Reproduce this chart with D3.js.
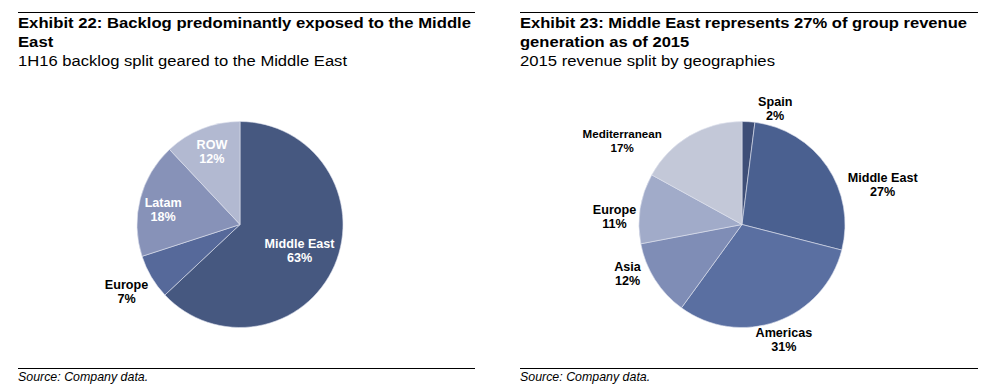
<!DOCTYPE html>
<html>
<head>
<meta charset="utf-8">
<script src="https://cdn.jsdelivr.net/npm/d3@7"></script>
<style>
  html, body { margin: 0; padding: 0; background: #fff; }
  svg { display: block; }
  text { font-family: "Liberation Sans", Arial, Helvetica, sans-serif; }
</style>
</head>
<body>
<svg id="chart" width="1004" height="389"></svg>
<script>
// ---- Data ----
const leftTitle = ["Exhibit 22: Backlog predominantly exposed to the Middle", "East"];
const leftSubtitle = "1H16 backlog split geared to the Middle East";
const leftCategories = ["Middle East", "Europe", "Latam", "ROW"];
const leftValues = [63, 7, 18, 12];

const rightTitle = ["Exhibit 23: Middle East represents 27% of group revenue", "generation as of 2015"];
const rightSubtitle = "2015 revenue split by geographies";
const rightCategories = ["Spain", "Middle East", "Americas", "Asia", "Europe", "Mediterranean"];
const rightValues = [2, 27, 31, 12, 11, 17];

const sourceText = "Source: Company data.";

// ---- Styles / layout (not data) ----
const leftColors = ["#465880", "#56699a", "#8792b8", "#b2b9d1"];
const rightColors = ["#3e4e77", "#4a6090", "#5a6fa1", "#7f8db6", "#a1abc9", "#c3c8d8"];
// label placement: [angle in degrees clockwise from 12 o'clock, radius factor, inside(white)?]
const leftLabelPos = [[113.4, 0.63, true], [239.4, 1.28, false], [281, 0.76, true], [339, 0.76, true]];
const rightLabelPos = [[16, 1.17, false], [74.2, 1.42, false], [160, 1.19, false], [246.7, 1.21, false], [273.6, 1.24, false], [305, 1.42, false]];

const svg = d3.select("#chart");

function stretch(sel, ratio) {
  const w = sel.node().getComputedTextLength();
  sel.attr("textLength", w * ratio).attr("lengthAdjust", "spacingAndGlyphs");
}

function panel(x0, width, title, subtitle, titleW, subW, cats, vals, colors, labelPos, cx, cy, r) {
  const g = svg.append("g");
  g.append("line").attr("x1", x0).attr("x2", x0 + width).attr("y1", 12.5).attr("y2", 12.5)
    .attr("stroke", "#000").attr("stroke-width", 1.2);
  const tl = title.map((t, i) => g.append("text").attr("x", x0).attr("y", 27.5 + i * 19)
      .attr("font-size", 15.5).attr("font-weight", "bold").attr("fill", "#000")
      .text(t));
  const ratio = titleW / tl[0].node().getComputedTextLength();
  tl.forEach(s => stretch(s, ratio));

  const st = g.append("text").attr("x", x0).attr("y", 66)
    .attr("font-size", 15.5).attr("fill", "#000").text(subtitle);
  stretch(st, subW / st.node().getComputedTextLength());

  g.append("line").attr("x1", x0).attr("x2", x0 + width).attr("y1", 368.5).attr("y2", 368.5)
    .attr("stroke", "#000").attr("stroke-width", 1);
  g.append("text").attr("x", x0).attr("y", 380.5)
    .attr("font-size", 12.4).attr("font-style", "italic").attr("fill", "#000").text(sourceText);

  const data = cats.map((c, i) => ({ cat: c, value: vals[i], i }));
  const pie = d3.pie().value(d => d.value).sort(null).startAngle(0).endAngle(2 * Math.PI);
  const arc = d3.arc().innerRadius(0).outerRadius(r);
  const arcs = pie(data);
  const pg = g.append("g").attr("transform", `translate(${cx},${cy})`);
  pg.selectAll("path").data(arcs).join("path")
    .attr("d", arc)
    .attr("fill", d => colors[d.data.i])
    .attr("stroke", "#dfe3ee").attr("stroke-width", 0.6);

  arcs.forEach(d => {
    const [angDeg, rf, inside] = labelPos[d.data.i];
    const a = angDeg * Math.PI / 180;
    const lx = Math.sin(a) * r * rf;
    const ly = -Math.cos(a) * r * rf;
    const fs = d.data.cat.length > 12 ? 11.6 : 12.6;
    const t = pg.append("text")
      .attr("text-anchor", "middle")
      .attr("font-size", fs).attr("font-weight", "bold")
      .attr("fill", inside ? "#fff" : "#000");
    t.append("tspan").attr("x", lx).attr("y", ly - 2.5).text(d.data.cat);
    t.append("tspan").attr("x", lx).attr("y", ly + 11.5).text(d.data.value + "%");
  });
  return g;
}

panel(18, 457, leftTitle, leftSubtitle, 453, 329, leftCategories, leftValues, leftColors, leftLabelPos, 240, 224.5, 103);
panel(520, 458, rightTitle, rightSubtitle, 447, 255, rightCategories, rightValues, rightColors, rightLabelPos, 742, 224.5, 103);
</script>
</body>
</html>
